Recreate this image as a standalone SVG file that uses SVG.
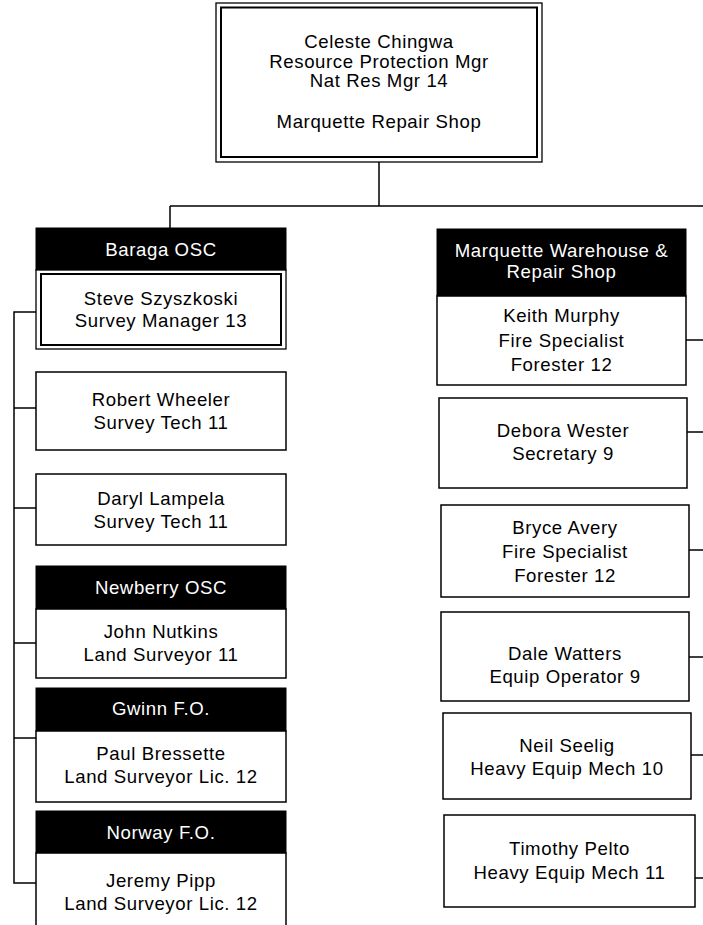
<svg xmlns="http://www.w3.org/2000/svg" width="703" height="925" viewBox="0 0 703 925">
<style>
text{font-family:"Liberation Sans",Arial,sans-serif;font-size:18.6px;letter-spacing:0.6px;text-anchor:middle;fill:#000}
text.w{fill:#fff}
.box{fill:#fff;stroke:#000;stroke-width:1.5}
.blk{fill:#000;stroke:#000;stroke-width:1}
.outer{fill:#fff;stroke:#000;stroke-width:1.3}
.inner{fill:none;stroke:#000;stroke-width:2}
.conn{fill:none;stroke:#000;stroke-width:1.5}
</style>
<rect width="703" height="925" fill="#fff"/>
<g id="connectors" class="conn">
<path d="M379 162V206M170 206H703M170 206V228"/>
<path d="M36 312H14V883H36M14 408H36M14 508H36M14 643H36M14 738H36"/>
<path d="M686 340H703M687 432H703M689 550H703M689 657H703M691 755H703M695 878H703"/>
</g>
<g id="celeste">
<rect class="outer" x="216" y="3" width="326" height="159"/>
<rect class="inner" x="221" y="7.5" width="316" height="149.5"/>
<text x="379" y="48">Celeste Chingwa</text>
<text x="379" y="67.5">Resource Protection Mgr</text>
<text x="379" y="87">Nat Res Mgr 14</text>
<text x="379" y="127.5">Marquette Repair Shop</text>
</g>
<g id="baraga">
<rect class="blk" x="36" y="228" width="250" height="42"/>
<text class="w" x="161" y="256">Baraga OSC</text>
</g>
<g id="steve">
<rect class="outer" x="36" y="270" width="250" height="79"/>
<rect class="inner" x="41" y="274" width="240" height="71"/>
<text x="161" y="305">Steve Szyszkoski</text>
<text x="161" y="327">Survey Manager 13</text>
</g>
<g id="robert">
<rect class="box" x="36" y="372" width="250" height="78"/>
<text x="161" y="406">Robert Wheeler</text>
<text x="161" y="428.5">Survey Tech 11</text>
</g>
<g id="daryl">
<rect class="box" x="36" y="474" width="250" height="71"/>
<text x="161" y="505">Daryl Lampela</text>
<text x="161" y="528">Survey Tech 11</text>
</g>
<g id="newberry">
<rect class="blk" x="36" y="566" width="250" height="43"/>
<text class="w" x="161" y="594">Newberry OSC</text>
</g>
<g id="john">
<rect class="box" x="36" y="609" width="250" height="69"/>
<text x="161" y="637.5">John Nutkins</text>
<text x="161" y="660.5">Land Surveyor 11</text>
</g>
<g id="gwinn">
<rect class="blk" x="36" y="688" width="250" height="43"/>
<text class="w" x="161" y="715">Gwinn F.O.</text>
</g>
<g id="paul">
<rect class="box" x="36" y="731" width="250" height="71"/>
<text x="161" y="759.5">Paul Bressette</text>
<text x="161" y="783">Land Surveyor Lic. 12</text>
</g>
<g id="norway">
<rect class="blk" x="36" y="811" width="250" height="42"/>
<text class="w" x="161" y="838.5">Norway F.O.</text>
</g>
<g id="jeremy">
<rect class="box" x="36" y="853" width="250" height="80"/>
<text x="161" y="886.5">Jeremy Pipp</text>
<text x="161" y="910">Land Surveyor Lic. 12</text>
</g>
<g id="marquette">
<rect class="blk" x="437" y="229" width="249" height="67"/>
<text class="w" x="561.5" y="256.5">Marquette Warehouse &amp;</text>
<text class="w" x="561.5" y="277.5">Repair Shop</text>
</g>
<g id="keith">
<rect class="box" x="437" y="296" width="249" height="89"/>
<text x="561.5" y="322">Keith Murphy</text>
<text x="561.5" y="346.5">Fire Specialist</text>
<text x="561.5" y="371">Forester 12</text>
</g>
<g id="debora">
<rect class="box" x="439" y="398" width="248" height="90"/>
<text x="563" y="436.5">Debora Wester</text>
<text x="563" y="460">Secretary 9</text>
</g>
<g id="bryce">
<rect class="box" x="441" y="505" width="248" height="92"/>
<text x="565" y="533.5">Bryce Avery</text>
<text x="565" y="557.5">Fire Specialist</text>
<text x="565" y="581.5">Forester 12</text>
</g>
<g id="dale">
<rect class="box" x="441" y="612" width="248" height="89"/>
<text x="565" y="660">Dale Watters</text>
<text x="565" y="683">Equip Operator 9</text>
</g>
<g id="neil">
<rect class="box" x="443" y="713" width="248" height="86"/>
<text x="567" y="751.5">Neil Seelig</text>
<text x="567" y="775">Heavy Equip Mech 10</text>
</g>
<g id="timothy">
<rect class="box" x="444" y="815" width="251" height="92"/>
<text x="569.5" y="855">Timothy Pelto</text>
<text x="569.5" y="879">Heavy Equip Mech 11</text>
</g>
</svg>
